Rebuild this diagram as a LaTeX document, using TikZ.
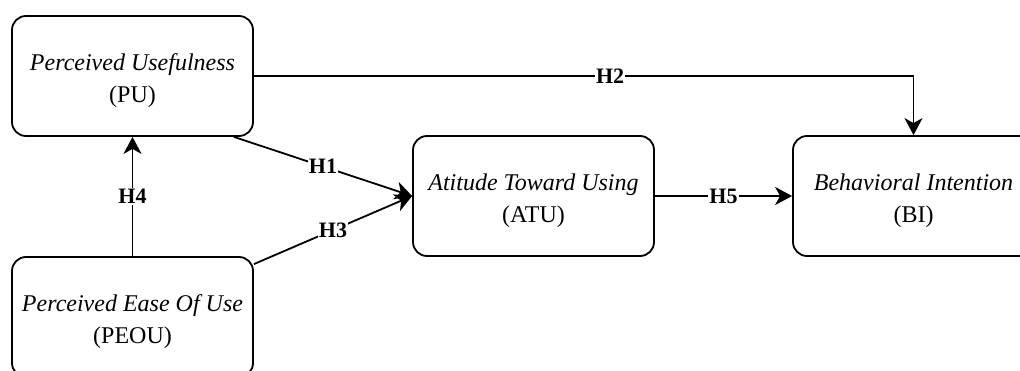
\documentclass[tikz,border=0pt]{standalone}
\usepackage{fontspec}
\setmainfont{Liberation Serif}
\usetikzlibrary{arrows.meta}

\newcommand{\liftline}{\rule{0pt}{13.5pt}}

\begin{document}
\begin{tikzpicture}[x=0.5pt, y=0.5pt,
    construct/.style={draw, line width=0.9pt, rounded corners=7pt, minimum width=120.5pt, minimum height=60pt,
        align=center, font=\fontsize{12}{16}\selectfont},
    hyp/.style={fill=white, inner sep=0.6pt, font=\fontsize{11}{13}\selectfont\bfseries},
    link/.style={line width=0.9pt, -{Stealth[length=8.5pt, width=9pt, inset=2.5pt]}}]
    \clip (0,0) rectangle (1020,370);

    % Constructs
    \node[construct] (pu) at (132.5,294) {\liftline\textit{Perceived Usefulness}\\(PU)};
    \node[construct] (peou) at (132.5,53) {\liftline\textit{Perceived Ease Of Use}\\(PEOU)};
    \node[construct] (atu) at (533.5,174) {\liftline\textit{Atitude Toward Using}\\(ATU)};
    \node[construct] (bi) at (913.5,174) {\liftline\textit{Behavioral Intention}\\(BI)};

    % Hypotheses
    \draw[link] ([xshift=-10pt]pu.south east) -- (atu.west) node[hyp, midway] {H1};
    \draw[link] (pu.east) -| (bi.north) node[hyp, pos=0.27] {H2};
    \draw[link] ([yshift=-4pt]peou.north east) -- (atu.west) node[hyp, midway] {H3};
    \draw[link] (peou.north) -- (pu.south) node[hyp, midway] {H4};
    \draw[link] (atu.east) -- (bi.west) node[hyp, midway] {H5};
\end{tikzpicture}
\end{document}
